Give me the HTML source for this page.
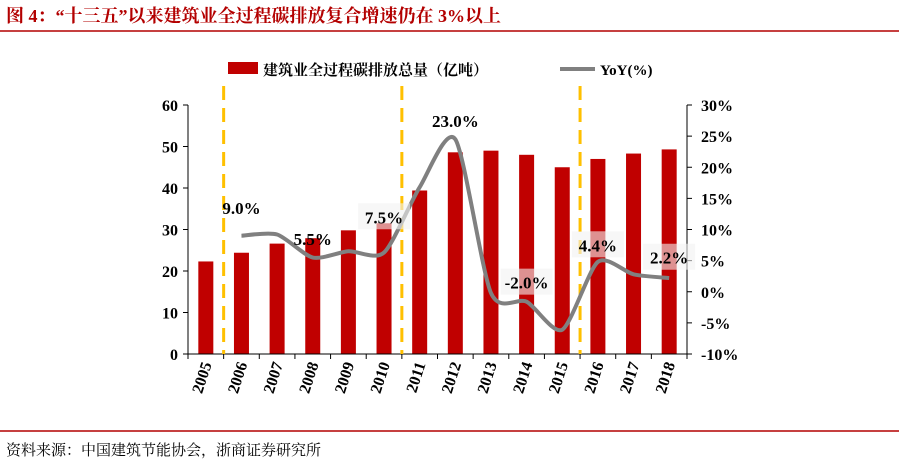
<!DOCTYPE html>
<html><head><meta charset="utf-8"><style>
body{margin:0;background:#fff;width:899px;height:468px;overflow:hidden;font-family:"Liberation Serif","Noto Serif CJK SC",serif}
</style></head><body>
<svg width="899" height="468" id="c">
<text x="6" y="22" fill="#b30000" font-size="18" font-weight="bold" font-family="Liberation Serif, Noto Serif CJK SC, serif">图 4：“十三五”以来建筑业全过程碳排放复合增速仍在 3%以上</text>
<line x1="0" y1="31" x2="899" y2="31" stroke="#b30000" stroke-width="1.5"/>
<line x1="0" y1="431" x2="899" y2="431" stroke="#b30000" stroke-width="1.5"/>
<text x="6" y="455" font-size="15" fill="#000" font-family="Noto Serif CJK SC, serif">资料来源：中国建筑节能协会，浙商证券研究所</text>
<g>
<rect x="228" y="62" width="30" height="12" fill="#c00000"/>
<text x="263" y="75" font-size="15" font-weight="bold" font-family="Noto Serif CJK SC, serif">建筑业全过程碳排放总量（亿吨）</text>
<line x1="560" y1="69" x2="595" y2="69" stroke="#808080" stroke-width="4"/>
<text x="600" y="75" font-size="15" font-weight="bold">YoY(%)</text>
</g>
<g id="plot"></g>
</svg>
<script>
const years=["2005","2006","2007","2008","2009","2010","2011","2012","2013","2014","2015","2016","2017","2018"];
const emissions=[22.3,24.4,26.6,27.9,29.8,31.5,39.4,48.6,49.0,48.0,45.0,47.0,48.3,49.3];
const yoy=[null,9.0,9.2,5.5,6.5,6.3,16.8,24.5,-0.2,-1.6,-6.1,4.8,2.8,2.2];
const labelYears=["2006","2008","2010","2012","2014","2016","2018"];
const labelTexts=["9.0%","5.5%","7.5%","23.0%","-2.0%","4.4%","2.2%"];
const labelYoy=[12.5,7.5,11.0,26.5,0.5,6.5,4.5];
const labelBg=[false,false,true,false,true,true,true];
const leftTicks=[0,10,20,30,40,50,60];
const rightTicks=[-10,-5,0,5,10,15,20,25,30];
const dividers=[0.5,5.5,10.5];
const NS="http://www.w3.org/2000/svg";
const g=document.getElementById('plot');
const X0=188,X1=687,Y0=354,Y1=105,bw=(X1-X0)/years.length;
const yl=v=>Y0-(v/60)*(Y0-Y1);
const yr=v=>Y0-((v+10)/40)*(Y0-Y1);
const xc=i=>X0+bw*(i+0.5);
function mk(t,a){const e=document.createElementNS(NS,t);for(const k in a)e.setAttribute(k,a[k]);g.appendChild(e);return e;}
emissions.forEach((v,i)=>{const r=mk('rect',{x:xc(i)-7.5,y:yl(v),width:15,height:Y0-yl(v),fill:'#c00000'});

});
let e=mk('line',{x1:X0,y1:Y1,x2:X0,y2:Y0,stroke:'#000'});


e=mk('line',{x1:X1,y1:Y1,x2:X1,y2:Y0,stroke:'#000'});


e=mk('line',{x1:X0,y1:Y0,x2:X1,y2:Y0,stroke:'#000'});


leftTicks.forEach(v=>{mk('line',{x1:X0-5,y1:yl(v),x2:X0,y2:yl(v),stroke:'#000'});
const t=mk('text',{x:X0-10,y:yl(v)+6,'text-anchor':'end','font-size':16,'font-weight':'bold'});t.textContent=v;

});
rightTicks.forEach(v=>{mk('line',{x1:X1,y1:yr(v),x2:X1+5,y2:yr(v),stroke:'#000'});
const t=mk('text',{x:X1+14,y:yr(v)+6,'font-size':16,'font-weight':'bold'});t.textContent=v+'%';

});
for(let i=0;i<=years.length;i++)mk('line',{x1:X0+bw*i,y1:Y0,x2:X0+bw*i,y2:Y0+5,stroke:'#000'});
years.forEach((y,i)=>{const t=mk('text',{x:0,y:0,'text-anchor':'end','font-size':16,'font-weight':'bold',transform:`translate(${xc(i)+6},${Y0+10}) rotate(-72)`});t.textContent=y;

});
dividers.forEach(d=>{const l=mk('line',{x1:X0+bw*(d+0.5),y1:86,x2:X0+bw*(d+0.5),y2:Y0,stroke:'#ffc000','stroke-width':3,'stroke-dasharray':'14,8'});

});
const pts=[];yoy.forEach((v,i)=>{if(v!==null)pts.push([xc(i),yr(v)]);});
let d='M'+pts[0].join(',');
const k=8;
for(let i=0;i<pts.length-1;i++){const p0=pts[i-1]||pts[i],p1=pts[i],p2=pts[i+1],p3=pts[i+2]||p2;
d+=` C${p1[0]+(p2[0]-p0[0])/k},${p1[1]+(p2[1]-p0[1])/k} ${p2[0]-(p3[0]-p1[0])/k},${p2[1]-(p3[1]-p1[1])/k} ${p2[0]},${p2[1]}`;}
e=mk('path',{d:d,fill:'none',stroke:'#808080','stroke-width':4});


labelYears.forEach((y,k)=>{const i=years.indexOf(y);
if(labelBg[k]){const b=mk('rect',{x:xc(i)-26,y:yr(labelYoy[k])-20,width:52,height:26,fill:'#f2f2f2','fill-opacity':0.6});

}
const t=mk('text',{x:xc(i),y:yr(labelYoy[k]),'text-anchor':'middle','font-size':17,'font-weight':'bold'});t.textContent=labelTexts[k];

});
</script>
</body></html>
